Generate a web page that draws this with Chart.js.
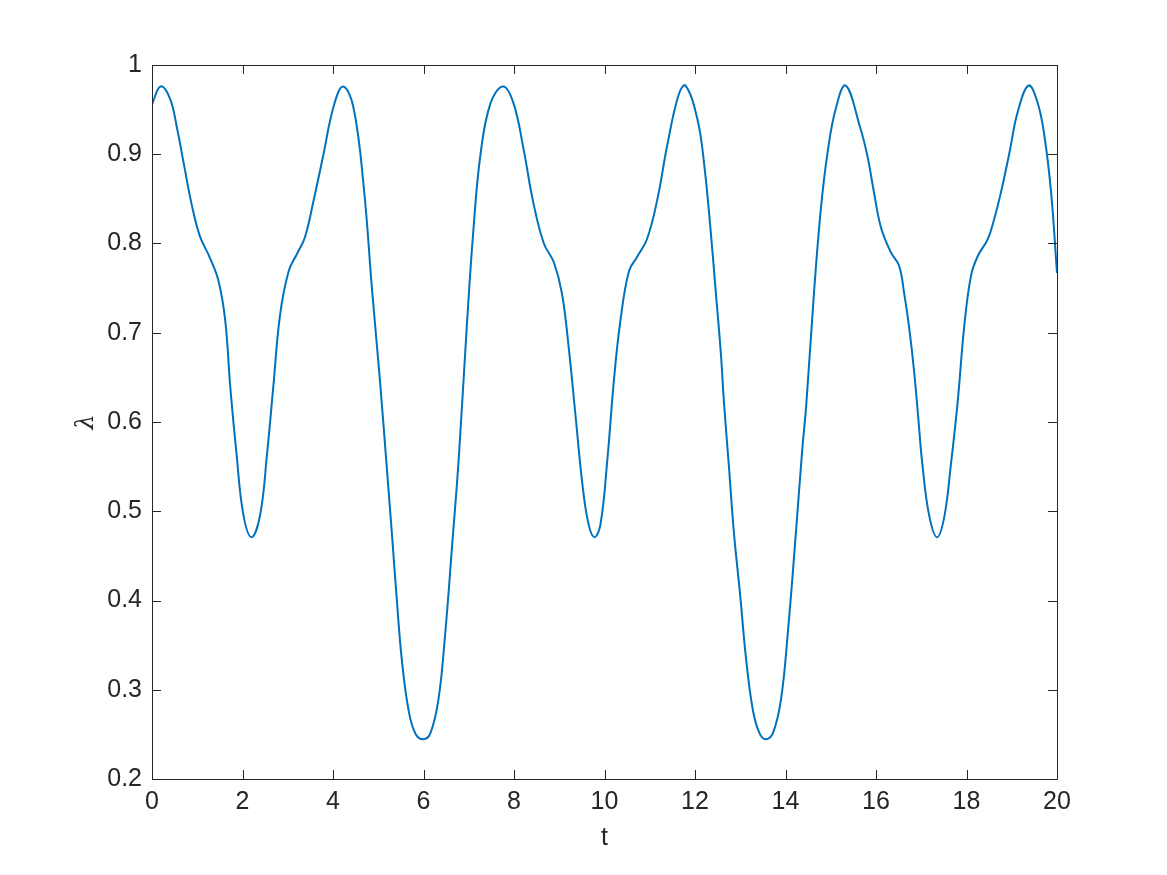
<!DOCTYPE html>
<html>
<head>
<meta charset="utf-8">
<script src="https://cdn.jsdelivr.net/npm/chart.js@4/dist/chart.umd.min.js"></script>
<style>
  html, body { margin: 0; padding: 0; background: #fff; }
  #wrap { width: 1167px; height: 875px; }
</style>
</head>
<body>
<div id="wrap"><canvas id="lam"></canvas></div>
<script>
// t 값
const tVals = [
  0, 0.19, 0.4, 0.55, 0.7, 0.88, 1.06, 1.28, 1.47, 1.62, 1.73, 1.87, 2.02, 2.2,
  2.39, 2.54, 2.68, 2.83, 3.02, 3.2, 3.38, 3.57, 3.79, 4.01, 4.22,
  4.45, 4.68, 4.86, 5.04, 5.19, 5.3, 5.41, 5.52, 5.67, 5.82, 5.99,
  6.15, 6.33, 6.48, 6.63, 6.78, 6.96, 7.11, 7.26, 7.48, 7.76,
  7.99, 8.21, 8.43, 8.66, 8.88, 9.06, 9.21, 9.36, 9.51, 9.65, 9.78,
  9.91, 10.06, 10.21, 10.35, 10.54, 10.72, 10.94, 11.17, 11.39, 11.64, 11.79,
  12.05, 12.2, 12.35, 12.46, 12.57, 12.64, 12.75, 12.86, 13.0, 13.13, 13.28, 13.42, 13.56,
  13.72, 13.9, 14.05, 14.23, 14.37, 14.46, 14.63, 14.78, 14.93, 15.11, 15.33,
  15.65, 15.81, 15.96, 16.11, 16.33, 16.51, 16.62, 16.73, 16.84, 16.93, 17.03, 17.18, 17.35,
  17.51, 17.65, 17.8, 17.95, 18.1, 18.25, 18.47, 18.61, 18.76, 18.95, 19.13, 19.37,
  19.57, 19.72, 19.87, 20
];
// lambda 값
const lamVals = [
  0.956, 0.976, 0.962, 0.93, 0.89, 0.843, 0.808, 0.784, 0.758, 0.713, 0.639, 0.563, 0.496, 0.471,
  0.496, 0.563, 0.639, 0.72, 0.769, 0.788, 0.807, 0.848, 0.9, 0.953, 0.976,
  0.953, 0.863, 0.75, 0.645, 0.548, 0.476, 0.401, 0.334, 0.277, 0.251, 0.2445,
  0.251, 0.289, 0.363, 0.46, 0.56, 0.71, 0.82, 0.9, 0.957, 0.976,
  0.957, 0.906, 0.845, 0.8, 0.779, 0.744, 0.683, 0.607, 0.531, 0.485, 0.471,
  0.485, 0.556, 0.648, 0.713, 0.769, 0.785, 0.805, 0.85, 0.911, 0.967, 0.977,
  0.94, 0.89, 0.812, 0.745, 0.678, 0.622, 0.55, 0.476, 0.405, 0.334, 0.277, 0.252, 0.2445,
  0.251, 0.289, 0.363, 0.476, 0.569, 0.62, 0.745, 0.838, 0.902, 0.951, 0.977,
  0.93, 0.898, 0.856, 0.818, 0.79, 0.775, 0.745, 0.707, 0.658, 0.607, 0.55, 0.494, 0.471,
  0.494, 0.55, 0.62, 0.707, 0.764, 0.786, 0.805, 0.827, 0.857, 0.902, 0.947, 0.977,
  0.958, 0.921, 0.857, 0.767
];
const xTicks = [0, 2, 4, 6, 8, 10, 12, 14, 16, 18, 20];
const yTicks = [0.2, 0.3, 0.4, 0.5, 0.6, 0.7, 0.8, 0.9, 1];

const axisColor = "#262626";
const fontFamily = "'Liberation Sans', Arial, Helvetica, sans-serif";

// MATLAB 스타일 박스 + 안쪽 눈금
const boxTicks = {
  id: "boxTicks",
  afterDraw(chart) {
    const { ctx, chartArea: a, scales } = chart;
    const len = 9;
    ctx.save();
    ctx.strokeStyle = axisColor;
    ctx.lineWidth = 1;
    ctx.beginPath();
    ctx.rect(a.left + 0.5, a.top + 0.5, a.right - a.left, a.bottom - a.top);
    xTicks.forEach((v) => {
      const x = Math.round(scales.x.getPixelForValue(v)) + 0.5;
      ctx.moveTo(x, a.bottom);
      ctx.lineTo(x, a.bottom - len);
      ctx.moveTo(x, a.top);
      ctx.lineTo(x, a.top + len);
    });
    yTicks.forEach((v) => {
      const y = Math.round(scales.y.getPixelForValue(v)) + 0.5;
      ctx.moveTo(a.left, y);
      ctx.lineTo(a.left + len, y);
      ctx.moveTo(a.right, y);
      ctx.lineTo(a.right - len, y);
    });
    ctx.stroke();
    ctx.restore();
  },
};

const ctx = document.getElementById("lam").getContext("2d");

new Chart(ctx, {
  type: "line",
  data: {
    datasets: [
      {
        label: "lambda",
        data: tVals.map((t, i) => ({ x: t, y: lamVals[i] })),
        borderColor: "#0072BD",
        borderWidth: 2,
        pointRadius: 0,
        fill: false,
        tension: 0.4,
      },
    ],
  },
  options: {
    responsive: true,
    maintainAspectRatio: false,
    animation: false,
    layout: { padding: { left: 72, top: 65, right: 110, bottom: 22 } },
    plugins: {
      legend: { display: false },
      tooltip: { enabled: false },
    },
    scales: {
      x: {
        type: "linear",
        min: 0,
        max: 20,
        afterBuildTicks: (s) => { s.ticks = xTicks.map((v) => ({ value: v })); },
        afterFit: (s) => { s.height = 74; },
        grid: { drawOnChartArea: false, drawTicks: false },
        border: { display: false },
        ticks: {
          color: axisColor,
          padding: 8,
          maxRotation: 0,
          font: { family: fontFamily, size: 25 },
        },
        title: {
          display: true,
          text: "t",
          color: axisColor,
          padding: { top: 0, bottom: 0 },
          font: { family: fontFamily, size: 25 },
        },
      },
      y: {
        type: "linear",
        min: 0.2,
        max: 1,
        afterBuildTicks: (s) => { s.ticks = yTicks.map((v) => ({ value: v })); },
        afterFit: (s) => { s.width = 80; },
        grid: { drawOnChartArea: false, drawTicks: false },
        border: { display: false },
        ticks: {
          color: axisColor,
          padding: 10,
          font: { family: fontFamily, size: 25 },
          callback: (v) => (v === 1 ? "1" : v.toFixed(1)),
        },
        title: {
          display: true,
          text: "λ",
          color: axisColor,
          padding: { top: 0, bottom: 0 },
          font: { family: "'DejaVu Serif', serif", size: 24, style: "italic" },
        },
      },
    },
  },
  plugins: [boxTicks],
});
</script>
</body>
</html>
